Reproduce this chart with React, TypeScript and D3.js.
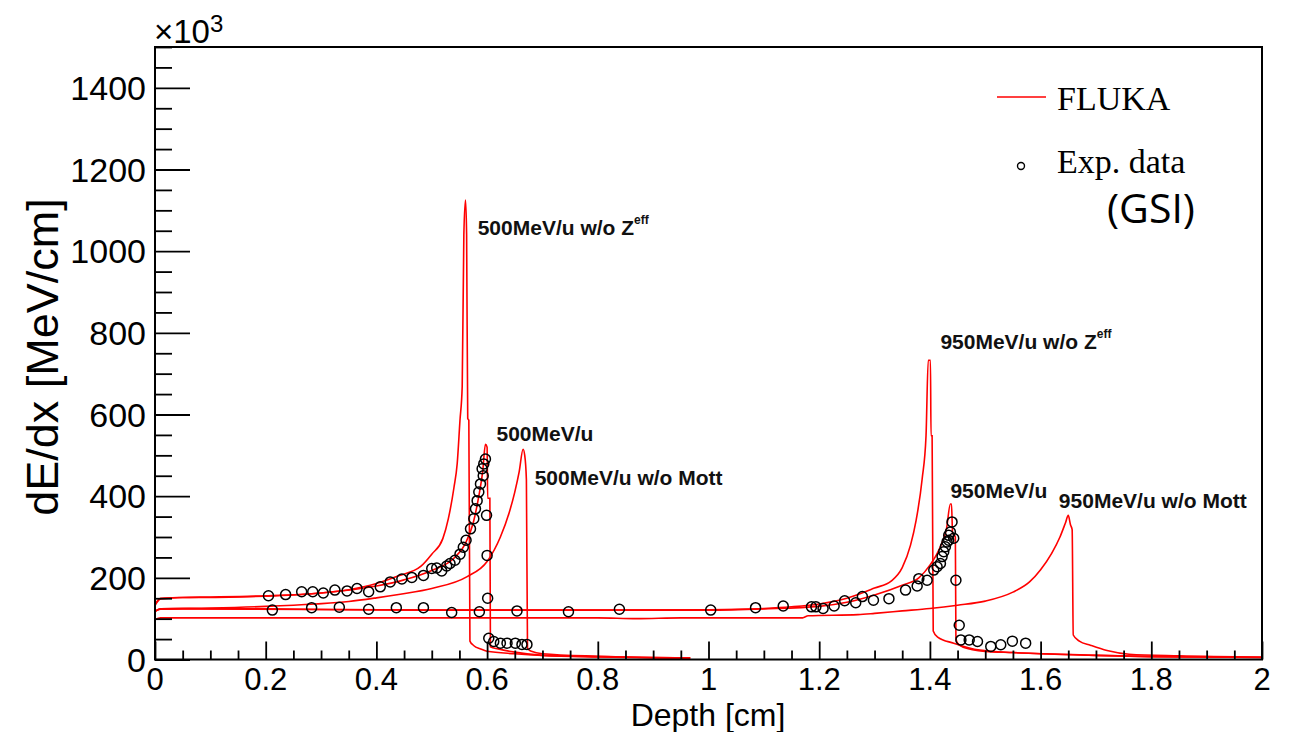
import { useEffect, useRef } from 'react';
import * as d3 from 'd3';

// FLUKA curves: [depth cm, dE/dx (x10^3 MeV/cm)]
const fluka500noZeff: [number, number][] = [
  [0, 132], [0.01, 148], [0.05, 152], [0.1, 152], [0.15, 153], [0.2, 155], [0.25, 158], [0.3, 163],
  [0.35, 171], [0.4, 186], [0.44, 205], [0.48, 228], [0.5, 258], [0.52, 296], [0.53, 345], [0.54, 420],
  [0.546, 480], [0.551, 586], [0.555, 668], [0.558, 1040], [0.561, 1125], [0.563, 1040], [0.565, 590],
  [0.567, 586], [0.569, 45], [0.575, 35], [0.59, 25], [0.6, 20], [0.65, 14], [0.7, 10], [0.8, 7],
  [0.9, 5], [0.967, 4],
];
const fluka500: [number, number][] = [
  [0, 135], [0.01, 150], [0.05, 152], [0.1, 153], [0.2, 156], [0.3, 163], [0.4, 180], [0.45, 195],
  [0.5, 218], [0.54, 248], [0.56, 282], [0.575, 335], [0.585, 400], [0.592, 460], [0.597, 527],
  [0.6, 520], [0.601, 395], [0.605, 395], [0.606, 31], [0.62, 26], [0.65, 18], [0.7, 10], [0.8, 6],
  [0.9, 4], [0.967, 3],
];
const fluka500noMott: [number, number][] = [
  [0, 118], [0.01, 124], [0.1, 126], [0.2, 130], [0.29, 136], [0.35, 142], [0.4, 151], [0.443, 160],
  [0.5, 174], [0.564, 203], [0.6, 240], [0.624, 300], [0.64, 360], [0.65, 410], [0.658, 460],
  [0.665, 515], [0.668, 500], [0.671, 440], [0.673, 28], [0.68, 20], [0.7, 14], [0.8, 8], [0.9, 5],
  [0.967, 4],
];
const fluka950noZeff: [number, number][] = [
  [0, 118], [0.01, 124], [0.05, 125], [0.2, 124], [0.5, 121], [0.8, 121], [1.0, 122], [1.1, 125],
  [1.15, 129], [1.2, 136], [1.25, 150], [1.3, 175], [1.33, 192], [1.35, 225], [1.365, 280],
  [1.375, 340], [1.386, 442], [1.393, 548], [1.397, 733], [1.401, 733], [1.402, 548], [1.404, 548],
  [1.406, 70], [1.414, 55], [1.443, 40], [1.49, 23], [1.55, 17], [1.61, 14], [1.7, 10], [1.8, 7],
  [1.9, 6], [2.0, 5],
];
const fluka950: [number, number][] = [
  [0, 118], [0.01, 123], [0.05, 124], [0.5, 121], [0.8, 121], [1.0, 121], [1.1, 124], [1.2, 130],
  [1.25, 140], [1.3, 158], [1.35, 182], [1.38, 200], [1.4, 231], [1.42, 280], [1.43, 320],
  [1.437, 381], [1.439, 381], [1.441, 310], [1.446, 300], [1.447, 52], [1.45, 40], [1.46, 30],
  [1.5, 20], [1.55, 17], [1.6, 14], [1.7, 10], [1.8, 7], [2.0, 5],
];
const fluka950noMott: [number, number][] = [
  [0, 98], [0.01, 102], [0.1, 102], [0.5, 102], [0.8, 102], [0.87, 100], [0.95, 102], [1.17, 102],
  [1.18, 107], [1.27, 110], [1.3, 113], [1.35, 119], [1.4, 125], [1.45, 133], [1.5, 143],
  [1.55, 165], [1.58, 190], [1.6, 220], [1.62, 260], [1.635, 300], [1.645, 335], [1.65, 353],
  [1.654, 330], [1.657, 318], [1.659, 60], [1.67, 45], [1.69, 35], [1.72, 22], [1.76, 13],
  [1.85, 9], [2.0, 6],
];

// GSI measurements
const exp500: [number, number][] = [
  [0.205, 156], [0.236, 159], [0.265, 166], [0.285, 166], [0.304, 163], [0.325, 170], [0.347, 168],
  [0.365, 174], [0.386, 166], [0.407, 178], [0.425, 190], [0.446, 197], [0.464, 201], [0.485, 206],
  [0.5, 223], [0.509, 224], [0.518, 217], [0.527, 229], [0.533, 235], [0.542, 243], [0.551, 258],
  [0.557, 275], [0.562, 292], [0.57, 320], [0.576, 345], [0.579, 369], [0.582, 389], [0.585, 410],
  [0.588, 430], [0.591, 467], [0.593, 450], [0.594, 479], [0.597, 491], [0.599, 353], [0.6, 255],
  [0.601, 150], [0.603, 52], [0.612, 44], [0.624, 40], [0.636, 40], [0.651, 40], [0.663, 37],
  [0.672, 37],
];
const exp950: [number, number][] = [
  [0.212, 121], [0.283, 127], [0.333, 128], [0.386, 123], [0.436, 127], [0.485, 127], [0.536, 115],
  [0.586, 117], [0.654, 119], [0.747, 117], [0.839, 123], [1.004, 121], [1.085, 127], [1.135, 131],
  [1.186, 129], [1.194, 129], [1.207, 125], [1.227, 131], [1.246, 144], [1.266, 139], [1.278, 154],
  [1.298, 145], [1.326, 149], [1.356, 170], [1.377, 180], [1.38, 198], [1.395, 194], [1.407, 219],
  [1.413, 227], [1.419, 235], [1.422, 252], [1.425, 264], [1.428, 276], [1.431, 288], [1.434, 304],
  [1.434, 292], [1.437, 312], [1.44, 337], [1.443, 297], [1.447, 194], [1.453, 84], [1.456, 48],
  [1.471, 48], [1.486, 44], [1.51, 32], [1.528, 36], [1.549, 45], [1.573, 40],
];

const xTicks = [0, 0.2, 0.4, 0.6, 0.8, 1, 1.2, 1.4, 1.6, 1.8, 2];
const yTicks = [0, 200, 400, 600, 800, 1000, 1200, 1400];

const labels = [
  { text: '500MeV/u w/o Z', sup: 'eff', x: 0.583, y: 1040 },
  { text: '500MeV/u', sup: '', x: 0.617, y: 535 },
  { text: '500MeV/u w/o Mott', sup: '', x: 0.686, y: 428 },
  { text: '950MeV/u w/o Z', sup: 'eff', x: 1.419, y: 760 },
  { text: '950MeV/u', sup: '', x: 1.437, y: 395 },
  { text: '950MeV/u w/o Mott', sup: '', x: 1.633, y: 372 },
];

const SANS = "'Liberation Sans', Arial, Helvetica, sans-serif";
const SERIF = "'Liberation Serif', 'Times New Roman', serif";

const DedxChart = () => {
  const svgRef = useRef<SVGSVGElement>(null);

  useEffect(() => {
    const svg = d3.select(svgRef.current).attr('width', 1291).attr('height', 732);
    svg.selectAll('*').remove();

    const x = d3.scaleLinear().domain([0, 2]).range([155, 1262]);
    const y = d3.scaleLinear().domain([0, 1500]).range([659.5, 47]);

    const line = d3
      .line<[number, number]>()
      .x((d) => x(d[0]))
      .y((d) => y(d[1]))
      .curve(d3.curveMonotoneX);

    const plot = svg.append('g');

    [fluka500noZeff, fluka500, fluka500noMott, fluka950noZeff, fluka950, fluka950noMott].forEach((s) => {
      plot
        .append('path')
        .datum(s)
        .attr('fill', 'none')
        .attr('stroke', '#ff0000')
        .attr('stroke-width', 1.6)
        .attr('d', line);
    });

    [exp500, exp950].forEach((s) => {
      plot
        .selectAll(null)
        .data(s)
        .enter()
        .append('circle')
        .attr('cx', (d) => x(d[0]))
        .attr('cy', (d) => y(d[1]))
        .attr('r', 5)
        .attr('fill', 'none')
        .attr('stroke', '#000')
        .attr('stroke-width', 1.5);
    });

    // frame
    svg
      .append('rect')
      .attr('x', x(0))
      .attr('y', y(1500))
      .attr('width', x(2) - x(0))
      .attr('height', y(0) - y(1500))
      .attr('fill', 'none')
      .attr('stroke', '#000')
      .attr('stroke-width', 2);

    // x axis
    const xAxis = d3
      .axisBottom(x)
      .tickValues(d3.range(0, 2.001, 0.05))
      .tickSize(-9)
      .tickFormat(() => '');
    const gx = svg.append('g').attr('transform', `translate(0,${y(0)})`).call(xAxis);
    gx.select('.domain').remove();
    gx.selectAll('.tick line')
      .attr('y2', (d: any) => (Math.abs(d * 5 - Math.round(d * 5)) < 1e-6 ? -18 : -9))
      .attr('stroke', '#000')
      .attr('stroke-width', 1.8);

    svg
      .append('g')
      .selectAll('text')
      .data(xTicks)
      .enter()
      .append('text')
      .attr('x', (d) => x(d))
      .attr('y', 690)
      .attr('text-anchor', 'middle')
      .attr('font-family', SANS)
      .attr('font-size', 31)
      .text((d) => String(+d.toFixed(1)));

    // y axis
    const yAxis = d3
      .axisLeft(y)
      .tickValues(d3.range(0, 1501, 50))
      .tickSize(-17)
      .tickFormat(() => '');
    const gy = svg.append('g').attr('transform', `translate(${x(0)},0)`).call(yAxis);
    gy.select('.domain').remove();
    gy.selectAll('.tick line')
      .attr('x2', (d: any) => (d % 200 === 0 ? 35 : 17))
      .attr('stroke', '#000')
      .attr('stroke-width', 1.8);

    svg
      .append('g')
      .selectAll('text')
      .data(yTicks)
      .enter()
      .append('text')
      .attr('x', 146)
      .attr('y', (d) => y(d) + 12)
      .attr('text-anchor', 'end')
      .attr('font-family', SANS)
      .attr('font-size', 34)
      .text((d) => String(d));

    const mult = svg
      .append('text')
      .attr('x', 154)
      .attr('y', 43)
      .attr('font-family', SANS)
      .attr('font-size', 33);
    mult.append('tspan').text('×10');
    mult.append('tspan').attr('font-size', 24).attr('dy', -11).text('3');

    svg
      .append('text')
      .attr('x', 708)
      .attr('y', 726)
      .attr('text-anchor', 'middle')
      .attr('font-family', SANS)
      .attr('font-size', 32)
      .text('Depth [cm]');

    svg
      .append('text')
      .attr('transform', `translate(58,357) rotate(-90)`)
      .attr('text-anchor', 'middle')
      .attr('font-family', SANS)
      .attr('font-size', 45)
      .text('dE/dx [MeV/cm]');

    // curve annotations
    labels.forEach((l) => {
      const t = svg
        .append('text')
        .attr('x', x(l.x))
        .attr('y', y(l.y))
        .attr('font-family', SANS)
        .attr('font-weight', 'bold')
        .attr('font-size', 21)
        .attr('fill', '#111');
      t.append('tspan').text(l.text);
      if (l.sup) t.append('tspan').attr('font-size', 12).attr('dy', -11).text(l.sup);
    });

    // legend
    svg
      .append('line')
      .attr('x1', 997)
      .attr('x2', 1046)
      .attr('y1', 97)
      .attr('y2', 97)
      .attr('stroke', '#ff0000')
      .attr('stroke-width', 1.6);
    svg
      .append('text')
      .attr('x', 1057)
      .attr('y', 110)
      .attr('font-family', SERIF)
      .attr('font-size', 34)
      .text('FLUKA');
    svg
      .append('circle')
      .attr('cx', 1021)
      .attr('cy', 166)
      .attr('r', 3.5)
      .attr('fill', 'none')
      .attr('stroke', '#000')
      .attr('stroke-width', 1.4);
    svg
      .append('text')
      .attr('x', 1057)
      .attr('y', 173)
      .attr('font-family', SERIF)
      .attr('font-size', 34)
      .text('Exp. data');
    svg
      .append('text')
      .attr('x', 1107)
      .attr('y', 223)
      .attr('font-family', "'Open Sans', 'Noto Sans', sans-serif")
      .attr('font-size', 41)
      .text('(GSI)');
  }, []);

  return (
    <svg
      ref={svgRef}
      style={{ position: 'absolute', left: 0, top: 0, background: '#fff', display: 'block' }}
    ></svg>
  );
};

export default function App() {
  return <DedxChart />;
}
